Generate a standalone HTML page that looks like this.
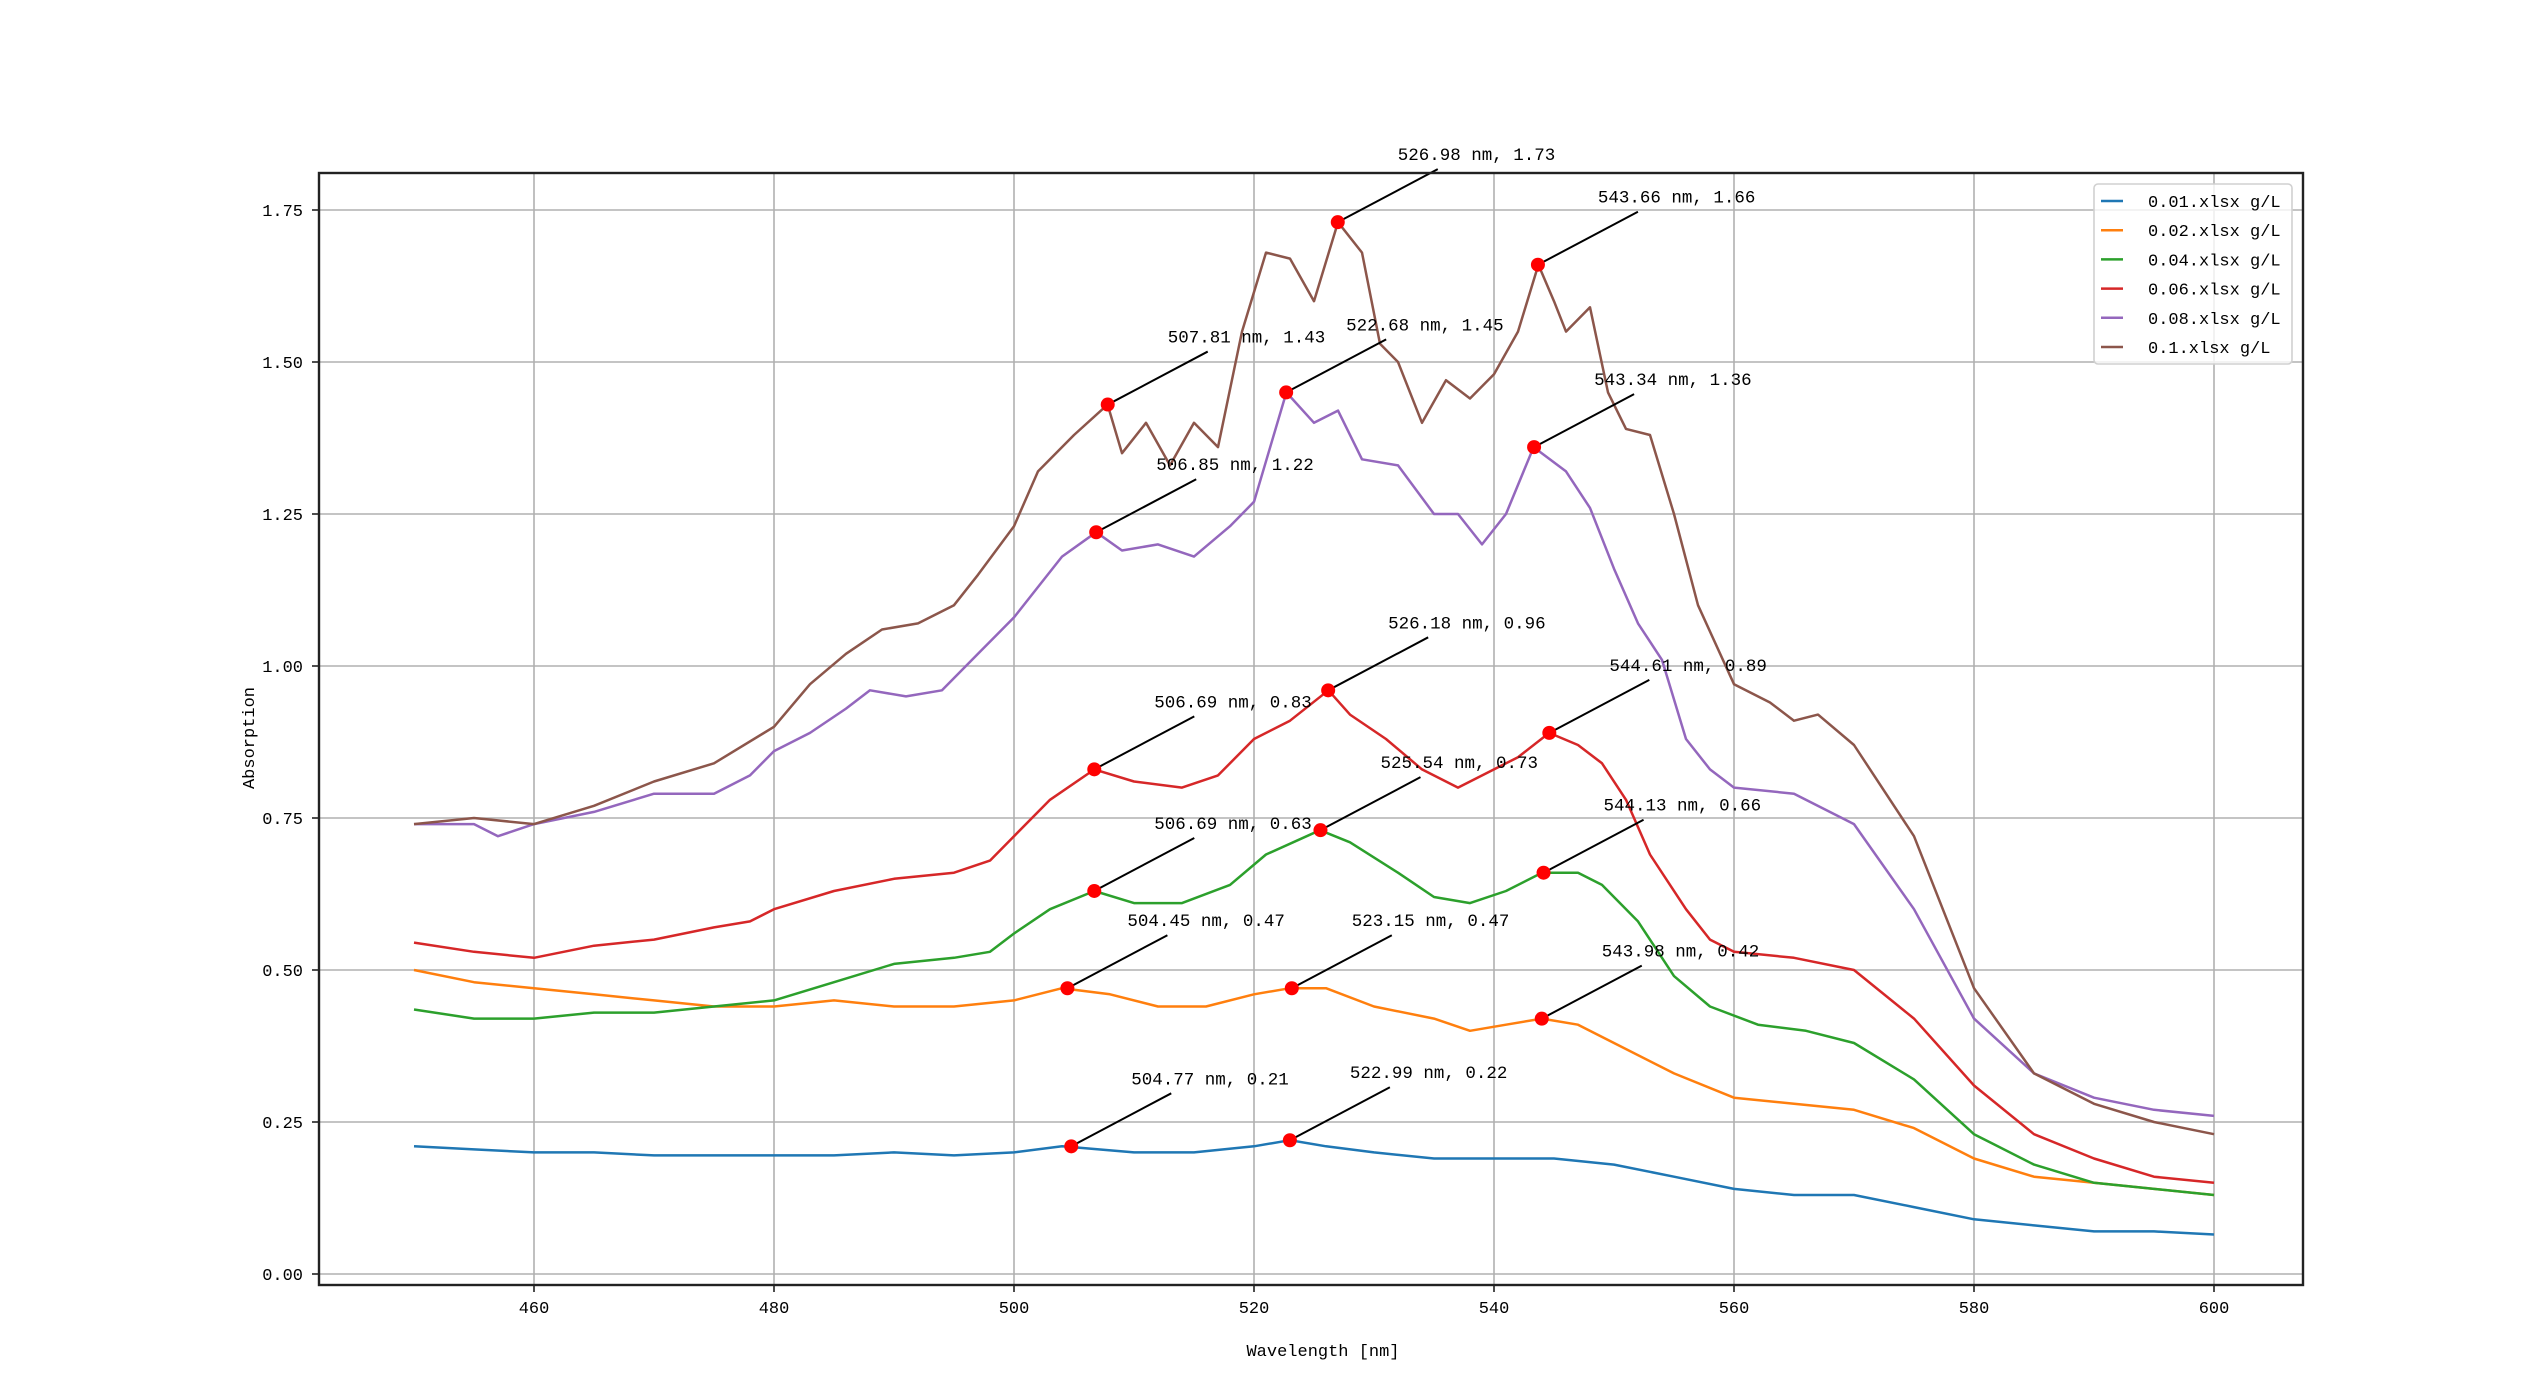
<!DOCTYPE html>
<html><head><meta charset="utf-8"><style>
html,body{margin:0;padding:0;background:#fff;}
svg text{font-family:"Liberation Mono","WenQuanYi Zen Hei",monospace;}
</style></head><body>
<svg id="chart" width="2529" height="1377" viewBox="0 0 2529 1377" xmlns="http://www.w3.org/2000/svg"></svg>
<script>
const xTicks=[460,480,500,520,540,560,580,600];
const yTicks=[0,0.25,0.5,0.75,1.0,1.25,1.5,1.75];
const yTickLabels=["0.00","0.25","0.50","0.75","1.00","1.25","1.50","1.75"];
const seriesNames=["0.01.xlsx g/L","0.02.xlsx g/L","0.04.xlsx g/L","0.06.xlsx g/L","0.08.xlsx g/L","0.1.xlsx g/L"];
const seriesColors=["#1f77b4","#ff7f0e","#2ca02c","#d62728","#9467bd","#8c564b"];
const x01=[450,455,460,465,470,475,480,485,490,495,500,504,510,515,520,523,526,530,535,540,545,550,555,560,565,570,575,580,585,590,595,600];
const y01=[0.21,0.205,0.20,0.20,0.195,0.195,0.195,0.195,0.20,0.195,0.20,0.21,0.20,0.20,0.21,0.22,0.21,0.20,0.19,0.19,0.19,0.18,0.16,0.14,0.13,0.13,0.11,0.09,0.08,0.07,0.07,0.065];
const x02=[450,455,460,465,470,475,480,485,490,495,500,504,508,512,516,520,523,526,530,535,538,541,544,547,550,555,560,565,570,575,580,585,590,595,600];
const y02=[0.50,0.48,0.47,0.46,0.45,0.44,0.44,0.45,0.44,0.44,0.45,0.47,0.46,0.44,0.44,0.46,0.47,0.47,0.44,0.42,0.40,0.41,0.42,0.41,0.38,0.33,0.29,0.28,0.27,0.24,0.19,0.16,0.15,0.14,0.13];
const x04=[450,455,460,465,470,475,480,485,490,495,498,500,503,506.7,510,514,518,521,525.5,528,532,535,538,541,544,547,549,552,555,558,562,566,570,575,580,585,590,595,600];
const y04=[0.435,0.42,0.42,0.43,0.43,0.44,0.45,0.48,0.51,0.52,0.53,0.56,0.60,0.63,0.61,0.61,0.64,0.69,0.73,0.71,0.66,0.62,0.61,0.63,0.66,0.66,0.64,0.58,0.49,0.44,0.41,0.40,0.38,0.32,0.23,0.18,0.15,0.14,0.13];
const x06=[450,455,460,465,470,475,478,480,485,490,495,498,500,503,506.7,510,514,517,520,523,526.2,528,531,534,537,540,542,544.6,547,549,551,553,556,558,560,565,570,575,580,585,590,595,600];
const y06=[0.545,0.53,0.52,0.54,0.55,0.57,0.58,0.60,0.63,0.65,0.66,0.68,0.72,0.78,0.83,0.81,0.80,0.82,0.88,0.91,0.96,0.92,0.88,0.83,0.80,0.83,0.85,0.89,0.87,0.84,0.78,0.69,0.60,0.55,0.53,0.52,0.50,0.42,0.31,0.23,0.19,0.16,0.15];
const x08=[450,455,457,460,465,470,475,478,480,483,486,488,491,494,497,500,502,504,506.85,509,512,515,518,520,522.7,525,527,529,532,535,537,539,541,543.3,546,548,550,552,554,556,558,560,565,570,575,580,585,590,595,600];
const y08=[0.74,0.74,0.72,0.74,0.76,0.79,0.79,0.82,0.86,0.89,0.93,0.96,0.95,0.96,1.02,1.08,1.13,1.18,1.22,1.19,1.20,1.18,1.23,1.27,1.45,1.40,1.42,1.34,1.33,1.25,1.25,1.20,1.25,1.36,1.32,1.26,1.16,1.07,1.01,0.88,0.83,0.80,0.79,0.74,0.60,0.42,0.33,0.29,0.27,0.26];
const x10=[450,455,460,465,470,475,480,483,486,489,492,495,497,500,502,505,507.8,509,511,513,515,517,519,521,523,525,527,529,530.5,532,534,536,538,540,542,543.7,545,546,548,549.5,551,553,555,557,560,563,565,567,570,575,580,585,590,595,600];
const y10=[0.74,0.75,0.74,0.77,0.81,0.84,0.90,0.97,1.02,1.06,1.07,1.10,1.15,1.23,1.32,1.38,1.43,1.35,1.40,1.33,1.40,1.36,1.55,1.68,1.67,1.60,1.73,1.68,1.53,1.50,1.40,1.47,1.44,1.48,1.55,1.66,1.60,1.55,1.59,1.45,1.39,1.38,1.25,1.10,0.97,0.94,0.91,0.92,0.87,0.72,0.47,0.33,0.28,0.25,0.23];
const seriesX=[x01,x02,x04,x06,x08,x10];
const seriesY=[y01,y02,y04,y06,y08,y10];
const peakX=[504.77,522.99,504.45,523.15,543.98,506.69,525.54,544.13,506.69,526.18,544.61,506.85,522.68,543.34,507.81,526.98,543.66];
const peakY=[0.21,0.22,0.47,0.47,0.42,0.63,0.73,0.66,0.83,0.96,0.89,1.22,1.45,1.36,1.43,1.73,1.66];
const peakLabels=["504.77 nm, 0.21","522.99 nm, 0.22","504.45 nm, 0.47","523.15 nm, 0.47","543.98 nm, 0.42","506.69 nm, 0.63","525.54 nm, 0.73","544.13 nm, 0.66","506.69 nm, 0.83","526.18 nm, 0.96","544.61 nm, 0.89","506.85 nm, 1.22","522.68 nm, 1.45","543.34 nm, 1.36","507.81 nm, 1.43","526.98 nm, 1.73","543.66 nm, 1.66"];

const NS="http://www.w3.org/2000/svg";
const svg=document.getElementById('chart');
const L=319,R=2303,T=173,B=1285;
const X=v=>414+(v-450)*12;
const Y=v=>1274-v*608;
function mk(tag,attrs,parent){const e=document.createElementNS(NS,tag);for(const k in attrs)e.setAttribute(k,attrs[k]);(parent||svg).appendChild(e);return e;}

const grid=mk('g',{});


xTicks.forEach(t=>{const l=mk('line',{x1:X(t),x2:X(t),y1:T,y2:B,stroke:'#b0b0b0','stroke-width':1.6},grid);

});
yTicks.forEach(t=>{const l=mk('line',{x1:L,x2:R,y1:Y(t),y2:Y(t),stroke:'#b0b0b0','stroke-width':1.6},grid);

});

const lines=mk('g',{});


seriesX.forEach((xs,i)=>{
  const d=xs.map((x,j)=>(j?'L':'M')+X(x).toFixed(1)+' '+Y(seriesY[i][j]).toFixed(1)).join(' ');
  const p=mk('path',{d:d,fill:'none',stroke:seriesColors[i],'stroke-width':2.5,'stroke-linejoin':'round'},lines);
  
  
});

const ann=mk('g',{});


peakX.forEach((px,i)=>{
  const cx=X(px),cy=Y(peakY[i]);
  const ln=mk('line',{x1:cx,y1:cy,x2:cx+100,y2:cy-53,stroke:'#000','stroke-width':2},ann);
  
  
  const c=mk('circle',{cx:cx,cy:cy,r:7,fill:'#ff0000'},ann);
  
  
  const t=mk('text',{x:cx+60,y:cy-62,'font-size':17.5,fill:'#000'},ann);
  t.textContent=peakLabels[i];
  
  
});

const frame=mk('rect',{x:L,y:T,width:R-L,height:B-T,fill:'none',stroke:'#222','stroke-width':2.4});



const ticks=mk('g',{});


xTicks.forEach(t=>{
  const l=mk('line',{x1:X(t),x2:X(t),y1:B,y2:B+7,stroke:'#222','stroke-width':1.6},ticks);
  
  
  const tx=mk('text',{x:X(t),y:B+28,'font-size':17,'text-anchor':'middle',fill:'#000'},ticks);
  tx.textContent=String(t);
  
  
});
yTicks.forEach((t,i)=>{
  const l=mk('line',{x1:L-7,x2:L,y1:Y(t),y2:Y(t),stroke:'#222','stroke-width':1.6},ticks);
  
  
  const tx=mk('text',{x:L-16,y:Y(t)+6,'font-size':17,'text-anchor':'end',fill:'#000'},ticks);
  tx.textContent=yTickLabels[i];
  
  
});

const xl=mk('text',{x:1323,y:1356,'font-size':17,'text-anchor':'middle',fill:'#000'});
xl.textContent='Wavelength [nm]';


const yl=mk('text',{x:254,y:738,'font-size':17,'text-anchor':'middle',fill:'#000',transform:'rotate(-90 254 738)'});
yl.textContent='Absorption';



const leg=mk('g',{});


const lb=mk('rect',{x:2094,y:184,width:198,height:180,rx:4,fill:'#fff','fill-opacity':0.8,stroke:'#d0d0d0','stroke-width':1.6},leg);


seriesNames.forEach((n,i)=>{
  const y=201+i*29.2;
  const l=mk('line',{x1:2101,x2:2123,y1:y,y2:y,stroke:seriesColors[i],'stroke-width':2.5},leg);
  
  
  const t=mk('text',{x:2148,y:y+6,'font-size':17,fill:'#000'},leg);
  t.textContent=n;
  
  
});
</script>
</body></html>
